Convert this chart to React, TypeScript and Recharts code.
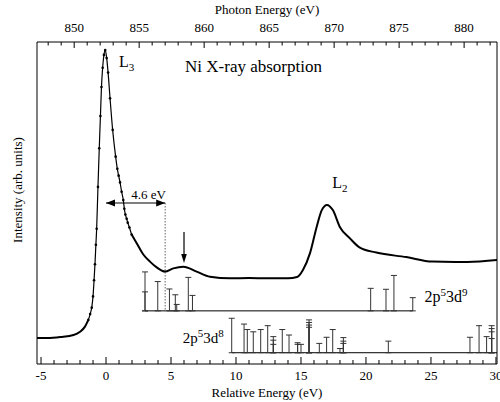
import React from 'react';
import {
  ComposedChart,
  Line,
  Scatter,
  ErrorBar,
  XAxis,
  YAxis,
  ReferenceLine,
  ReferenceDot
} from 'recharts';

// measured absorption curve (relative energy in eV, intensity in arb. units)
const relEnergy = [
  -5.31, -4.5, -3.5, -2.5, -2.0, -1.62, -1.36, -1.22, -1.1, -1.0, -0.92, -0.85, -0.78, -0.72,
  -0.62, -0.52, -0.43, -0.35, -0.26, -0.16, -0.06, 0.05, 0.16, 0.31, 0.51, 0.74, 0.87, 0.97,
  1.08, 1.2, 1.33, 1.41, 1.49, 1.59, 1.67, 1.8, 1.97, 2.36, 2.87, 3.38, 3.9, 4.54, 5.18, 5.95,
  6.97, 8.0, 9.54, 11.0, 12.4, 14.0, 14.7, 15.15, 15.7, 16.2, 16.6, 17.0, 17.45, 18.0, 18.75,
  19.5, 20.8, 23.1, 25.1, 27.8, 30.08
];
const intensity = [
  8.1, 8.1, 8.4, 9.0, 10.0, 11.6, 13.7, 15.5, 17.5, 21, 26, 31, 37, 42,
  55, 67, 77, 86, 92, 96, 97.5, 95, 90.5, 82.5, 72.7, 64.4, 60.6, 58.5,
  56.4, 53.5, 50.9, 48.2, 46.4, 45.1, 43.9, 42.4, 40.2, 37.5, 34.0, 31.8, 30.0, 28.7, 29.7, 30.2,
  28.7, 27.1, 26.6, 26.7, 26.6, 26.6, 27.0, 29.2, 34.5, 42.5, 47.8, 49.4, 47.8, 42.5, 39.1,
  36.2, 34.6, 33.2, 31.8, 31.7, 32.3
];

// 2p5 3d9 multiplet sticks
const d9Energy = [3.0, 3.0, 3.98, 4.88, 5.33, 5.44, 6.33, 6.65, 20.36, 21.54, 22.15, 23.6];
const d9Height = [12.1, 5.9, 9.1, 6.8, 5.0, 2.0, 10.4, 4.8, 7.0, 6.7, 11.0, 4.1];
const d9Base = 16.5;
const d9Span = [3.0, 23.6];

// 2p5 3d8 multiplet sticks
const d8Energy = [
  9.67, 10.62, 10.87, 11.33, 11.9, 12.44, 12.87, 12.87, 12.87, 13.56, 14.08, 14.74, 14.74,
  15.0, 15.62, 15.62, 15.62, 15.62, 16.41, 16.97, 17.44, 18.0, 18.26, 18.26, 18.26, 21.72,
  28.0, 28.7, 29.28, 29.67, 29.67, 29.67, 29.67
];
const d8Height = [
  10.7, 8.9, 7.2, 6.5, 7.2, 8.4, 5.0, 3.9, 2.6, 7.2, 5.5, 3.1, 2.6,
  2.6, 10.2, 9.4, 8.6, 7.9, 2.9, 4.8, 7.2, 1.3, 4.7, 3.6, 2.9, 3.6,
  4.8, 8.4, 5.0, 8.4, 7.5, 6.5, 4.4
];
const d8Base = 3.5;
const d8Span = [9.67, 30.08];

const relDomain = [-5.31, 30.08];
const photonOffset = 852.45;
const relTicks = Array.from({ length: 36 }, (_, i) => i - 5);
const photonTicks = Array.from({ length: 35 }, (_, i) => 848 + i);

const FONT = '"Liberation Serif", "Times New Roman", serif';

const curve = relEnergy.map((e, i) => ({ e, v: intensity[i] }));
const leftPart = curve.filter(p => p.e <= -1.36);
const peakPart = curve.filter(p => p.e >= -1.36 && p.e <= 1.97);
const restPart = curve.filter(p => p.e >= 1.97);
// same curve on the photon energy scale, only so the top axis has data
const photonCurve = relEnergy.map((e, i) => ({ ph: e + photonOffset, v: intensity[i] }));

const d9Rows = d9Energy.map((e, i) => ({ e, v: d9Base, err: [0, d9Height[i]] }));
const d8Rows = d8Energy.map((e, i) => ({ e, v: d8Base, err: [0, d8Height[i]] }));

const BottomTick = (props: any) => {
  const { x, y, payload } = props;
  const major = payload.value % 5 === 0;
  return (
    <g>
      <line x1={x} y1={y} x2={x} y2={y - (major ? 7 : 4)} stroke="#000" />
      {major && (
        <text x={x} y={y + 16} textAnchor="middle" fontSize={13} fontFamily={FONT} fill="#000">
          {payload.value}
        </text>
      )}
    </g>
  );
};

const TopTick = (props: any) => {
  const { x, y, payload } = props;
  const major = payload.value % 5 === 0;
  return (
    <g>
      <line x1={x} y1={y} x2={x} y2={y + (major ? 6 : 3.5)} stroke="#000" />
      {major && (
        <text x={x} y={y - 10.5} textAnchor="middle" fontSize={13} fontFamily={FONT} fill="#000">
          {payload.value}
        </text>
      )}
    </g>
  );
};

const center = (p: any) => {
  const vb = p.viewBox || {};
  return [vb.x + (vb.width || 0) / 2, vb.y + (vb.height || 0) / 2];
};

const note = (key: string, x: number, y: number, render: (cx: number, cy: number) => React.ReactElement) => (
  <ReferenceDot
    key={key}
    x={x}
    y={y}
    r={0}
    fill="none"
    stroke="none"
    isFront
    label={(p: any) => {
      const [cx, cy] = center(p);
      return render(cx, cy);
    }}
  />
);

const sup = (s: string) => (
  <tspan dy={-6} fontSize={11}>{s}</tspan>
);

export default function App() {
  return (
    <div style={{ position: 'absolute', left: 0, top: 0, width: 500, height: 402, background: '#fff' }}>
      <ComposedChart
        width={500}
        height={402}
        margin={{ top: 12, right: 0, bottom: 8, left: 0 }}
        style={{ fontFamily: FONT }}
      >
        <XAxis
          dataKey="e"
          type="number"
          domain={relDomain}
          allowDataOverflow
          ticks={relTicks}
          interval={0}
          tickLine={false}
          tickSize={0}
          tickMargin={0}
          tick={BottomTick}
          height={30}
          axisLine={{ stroke: '#000' }}
          label={(p: any) => {
            const vb = p.viewBox;
            return (
              <text x={vb.x + vb.width / 2} y={vb.y + 33} textAnchor="middle" fontSize={13} fontFamily={FONT} fill="#000">
                Relative Energy (eV)
              </text>
            );
          }}
        />
        <XAxis
          xAxisId="top"
          dataKey="ph"
          orientation="top"
          type="number"
          domain={[relDomain[0] + photonOffset, relDomain[1] + photonOffset]}
          allowDataOverflow
          ticks={photonTicks}
          interval={0}
          tickLine={false}
          tickSize={0}
          tickMargin={0}
          tick={TopTick}
          height={30}
          axisLine={{ stroke: '#000' }}
          label={(p: any) => {
            const vb = p.viewBox;
            return (
              <text x={vb.x + vb.width / 2} y={vb.y + 2} textAnchor="middle" fontSize={13} fontFamily={FONT} fill="#000">
                Photon Energy (eV)
              </text>
            );
          }}
        />
        <YAxis
          type="number"
          domain={[0, 100]}
          allowDataOverflow
          width={37}
          tick={false}
          tickLine={false}
          axisLine={{ stroke: '#000' }}
          label={(p: any) => {
            const vb = p.viewBox;
            const x = vb.x + 22;
            const y = vb.y + vb.height / 2 - 13;
            return (
              <text x={x} y={y} transform={`rotate(-90, ${x}, ${y})`} textAnchor="middle" fontSize={13} fontFamily={FONT} fill="#000">
                Intensity (arb. units)
              </text>
            );
          }}
        />
        <YAxis
          yAxisId="r"
          orientation="right"
          type="number"
          domain={[0, 100]}
          width={3}
          tick={false}
          tickLine={false}
          axisLine={{ stroke: '#000' }}
        />

        {/* invisible copy of the curve that drives the photon energy axis */}
        <Scatter xAxisId="top" data={photonCurve} dataKey="v" shape={() => <g />} isAnimationActive={false} />

        {/* stick spectra baselines */}
        <ReferenceLine segment={[{ x: d9Span[0], y: d9Base }, { x: d9Span[1], y: d9Base }]} stroke="#000" strokeWidth={1} />
        <ReferenceLine segment={[{ x: d8Span[0], y: d8Base }, { x: d8Span[1], y: d8Base }]} stroke="#000" strokeWidth={1} />

        <Scatter data={d9Rows} dataKey="v" shape={() => <g />} isAnimationActive={false}>
          <ErrorBar dataKey="err" direction="y" width={3} stroke="#333" strokeWidth={1} isAnimationActive={false} />
        </Scatter>
        <Scatter data={d8Rows} dataKey="v" shape={() => <g />} isAnimationActive={false}>
          <ErrorBar dataKey="err" direction="y" width={3} stroke="#333" strokeWidth={1} isAnimationActive={false} />
        </Scatter>

        {/* 4.6 eV marker */}
        <ReferenceLine segment={[{ x: 4.55, y: 50 }, { x: 4.55, y: d9Base }]} stroke="#666" strokeDasharray="1.5 1.5" />
        <ReferenceLine segment={[{ x: 0, y: 50 }, { x: 4.55, y: 50 }]} stroke="#000" strokeWidth={1.2} />
        <ReferenceDot x={0} y={50} r={3} isFront shape={(p: any) => <path d={`M${p.cx},${p.cy} l9,-3.5 l0,7 z`} fill="#000" />} />
        <ReferenceDot x={4.55} y={50} r={3} isFront shape={(p: any) => <path d={`M${p.cx},${p.cy} l-9,-3.5 l0,7 z`} fill="#000" />} />
        <ReferenceLine segment={[{ x: 6.0, y: 41 }, { x: 6.0, y: 33 }]} stroke="#000" strokeWidth={1.2} />
        <ReferenceDot x={6.0} y={31.4} r={3} isFront shape={(p: any) => <path d={`M${p.cx},${p.cy} l-2.8,-9 l5.6,0 z`} fill="#000" />} />

        <Line data={leftPart} dataKey="v" type="monotone" stroke="#000" strokeWidth={2} dot={false} isAnimationActive={false} />
        <Line
          data={peakPart}
          dataKey="v"
          type="monotone"
          stroke="#000"
          strokeWidth={1.2}
          dot={(p: any) => <circle key={`d${p.index}`} cx={p.cx} cy={p.cy} r={1.3} fill="#000" />}
          isAnimationActive={false}
        />
        <Line data={restPart} dataKey="v" type="monotone" stroke="#000" strokeWidth={2} dot={false} isAnimationActive={false} />

        {note('l3', 1.0, 92.2, (x, y) => (
          <text x={x} y={y} fontSize={16} fontFamily={FONT} fill="#000">
            L<tspan dy={4} fontSize={11}>3</tspan>
          </text>
        ))}
        {note('title', 6.08, 90.7, (x, y) => (
          <text x={x} y={y} fontSize={17} fontFamily={FONT} fill="#000">Ni X-ray absorption</text>
        ))}
        {note('l2', 17.4, 54.7, (x, y) => (
          <text x={x} y={y} fontSize={16} fontFamily={FONT} fill="#000">
            L<tspan dy={4} fontSize={11}>2</tspan>
          </text>
        ))}
        {note('gap', 3.27, 51.2, (x, y) => (
          <text x={x} y={y} textAnchor="middle" fontSize={13} fontFamily={FONT} fill="#000">4.6 eV</text>
        ))}
        {note('d9', 24.5, 19.3, (x, y) => (
          <text x={x} y={y} fontSize={16} fontFamily={FONT} fill="#000">
            2p{sup('5')}<tspan dy={6}>3d</tspan>{sup('9')}
          </text>
        ))}
        {note('d8', 5.9, 6.5, (x, y) => (
          <text x={x} y={y} fontSize={15} fontFamily={FONT} fill="#000">
            2p{sup('5')}<tspan dy={6}>3d</tspan>{sup('8')}
          </text>
        ))}
      </ComposedChart>
    </div>
  );
}
